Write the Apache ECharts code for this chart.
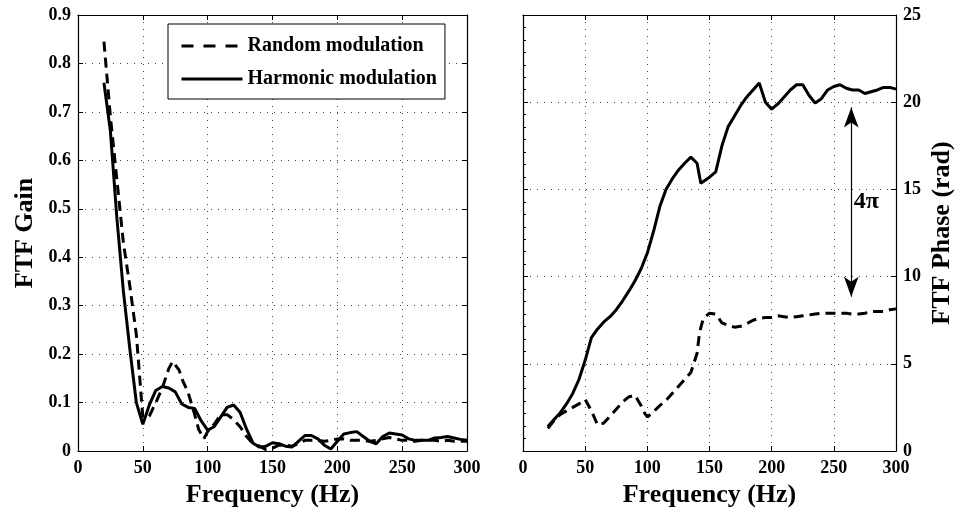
<!DOCTYPE html>
<html>
<head>
<meta charset="utf-8">
<script src="https://cdn.jsdelivr.net/npm/echarts@6/dist/echarts.min.js"></script>
<style>
html,body{margin:0;padding:0;background:#fff;}
#chart{width:956px;height:516px;}
</style>
</head>
<body>
<div id="chart"></div>
<script>
// ---------- Data ----------
var seriesNames = ['Random modulation', 'Harmonic modulation'];
var xTicks = [0, 50, 100, 150, 200, 250, 300];

// Left panel: FTF gain
var freqGainHarmonic = [20,25,30,35,40,45,50,55,60,65,70,75,80,85,90,95,100,105,110,115,120,125,130,135,140,145,150,155,160,165,170,175,180,185,190,195,200,205,210,215,220,225,230,235,240,245,250,255,260,265,270,275,280,285,290,295,300];
var gainHarmonic = [0.76,0.66,0.48,0.33,0.21,0.10,0.055,0.095,0.125,0.133,0.13,0.122,0.097,0.09,0.088,0.062,0.043,0.05,0.07,0.09,0.095,0.08,0.045,0.016,0.008,0.01,0.017,0.015,0.01,0.008,0.02,0.032,0.032,0.025,0.012,0.004,0.02,0.035,0.038,0.04,0.03,0.02,0.015,0.03,0.037,0.035,0.033,0.025,0.022,0.022,0.022,0.027,0.028,0.03,0.027,0.024,0.022];

var freqGainRandom = [20,25,30,35,40,45,50,55,60,65,70,73,78,80,85,90,93,97,100,105,110,115,120,125,130,135,140,145,150,155,160,165,170,175,180,185,190,195,200,205,210,215,220,225,230,235,240,245,250,255,260,265,270,275,280,285,290,295,300];
var gainRandom = [0.845,0.69,0.56,0.43,0.34,0.24,0.07,0.072,0.10,0.13,0.17,0.185,0.167,0.15,0.12,0.075,0.045,0.025,0.04,0.055,0.075,0.075,0.065,0.05,0.03,0.015,0.01,0.003,0.006,0.012,0.012,0.01,0.015,0.022,0.022,0.022,0.02,0.022,0.025,0.025,0.022,0.022,0.022,0.02,0.022,0.025,0.028,0.025,0.022,0.022,0.02,0.022,0.022,0.022,0.02,0.022,0.02,0.02,0.02];

// Right panel: FTF phase (rad)
var freqPhaseHarmonic = [20,25,30,35,40,45,50,55,60,65,70,75,80,85,90,95,100,105,110,115,120,125,130,135,140,143,150,155,160,165,170,175,180,185,190,195,200,205,210,215,220,225,230,235,240,245,250,255,260,265,270,275,280,285,290,295,300];
var phaseHarmonic = [1.4,1.8,2.2,2.7,3.3,4.1,5.2,6.5,7.0,7.4,7.7,8.1,8.6,9.15,9.75,10.45,11.35,12.6,14.0,15.0,15.6,16.1,16.5,16.85,16.5,15.35,15.7,16.0,17.5,18.6,19.2,19.8,20.3,20.7,21.1,20.0,19.6,19.9,20.3,20.7,21.0,21.0,20.4,19.95,20.2,20.7,20.9,21.0,20.8,20.7,20.7,20.5,20.6,20.7,20.85,20.85,20.75];

var freqPhaseRandom = [20,25,30,35,40,45,50,55,60,65,70,75,80,85,90,95,98,100,105,110,115,120,125,130,135,140,142,145,150,155,160,165,170,175,180,185,190,195,200,205,210,215,220,225,230,235,240,245,250,255,260,265,270,275,280,285,290,295,300];
var phaseRandom = [1.3,1.75,2.1,2.3,2.5,2.7,2.95,2.3,1.5,1.6,2.0,2.4,2.8,3.1,3.2,2.6,2.15,1.95,2.25,2.6,2.9,3.3,3.7,4.1,4.5,5.6,6.8,7.6,7.9,7.85,7.35,7.2,7.1,7.15,7.3,7.5,7.6,7.65,7.65,7.75,7.7,7.65,7.7,7.75,7.8,7.85,7.9,7.9,7.9,7.9,7.9,7.85,7.85,7.9,8.0,8.0,8.0,8.1,8.15];

// 4π annotation (double arrow) on the phase panel
var arrowFreq = 264;
var arrowTop = 19.7;
var arrowBottom = 8.85;
var arrowLabel = '4\u03c0';
var arrowLabelPos = [266, 14.3];

// ---------- Chart ----------
function pairs(xs, ys) { return xs.map(function (x, i) { return [x, ys[i]]; }); }

var FONT = 'Liberation Serif';
var tickFont = { color: '#000', fontFamily: FONT, fontWeight: 'bold', fontSize: 18 };
var nameFont = { color: '#000', fontFamily: FONT, fontWeight: 'bold', fontSize: 26 };
var gridLine = { show: true, lineStyle: { color: '#444', width: 1, type: [1, 6] } };
var axisLine = { show: true, onZero: false, lineStyle: { color: '#000', width: 1.2 } };
var tickIn = { show: true, inside: true, length: 5, lineStyle: { color: '#000', width: 1 } };

function xMain(gi) {
  return { type: 'value', gridIndex: gi, position: 'bottom', min: 0, max: 300, interval: 50,
    axisLine: axisLine, axisTick: tickIn, splitLine: gridLine,
    axisLabel: Object.assign({ margin: 8 }, tickFont),
    name: 'Frequency (Hz)', nameLocation: 'middle', nameGap: 30, nameTextStyle: nameFont };
}
function xTop(gi) {
  return { type: 'value', gridIndex: gi, position: 'top', min: 0, max: 300, interval: 50,
    axisLine: axisLine, axisTick: tickIn, splitLine: { show: false }, axisLabel: { show: false } };
}

var option = {
  animation: false,
  backgroundColor: '#fff',
  grid: [
    { left: 78, top: 15, width: 389, height: 436 },
    { left: 523, top: 15, width: 374, height: 436 }
  ],
  legend: {
    data: [
      { name: seriesNames[0], lineStyle: { type: [12, 10], width: 3 } },
      { name: seriesNames[1], lineStyle: { width: 3 } }
    ],
    orient: 'vertical',
    left: 168, top: 24,
    padding: [11, 8, 9, 12],
    itemGap: 11,
    itemWidth: 61, itemHeight: 14,
    itemTextGap: 8,
    borderColor: '#000', borderWidth: 1,
    backgroundColor: '#fff',
    itemStyle: { opacity: 0, borderWidth: 0 },
    textStyle: { color: '#000', fontFamily: FONT, fontWeight: 'bold', fontSize: 20, lineHeight: 22 },
    selectedMode: false
  },
  xAxis: [ xMain(0), xTop(0), xMain(1), xTop(1) ],
  yAxis: [
    { type: 'value', gridIndex: 0, position: 'left', min: 0, max: 0.9, interval: 0.1,
      axisLine: axisLine, axisTick: tickIn, splitLine: gridLine,
      axisLabel: Object.assign({ margin: 7 }, tickFont),
      name: 'FTF Gain', nameLocation: 'middle', nameGap: 40, nameRotate: 90, nameTextStyle: nameFont },
    { type: 'value', gridIndex: 0, position: 'right', min: 0, max: 0.9, interval: 0.1,
      axisLine: axisLine, axisTick: tickIn, splitLine: { show: false }, axisLabel: { show: false } },
    { type: 'value', gridIndex: 1, position: 'right', min: 0, max: 25, interval: 5,
      axisLine: axisLine, axisTick: tickIn, splitLine: gridLine,
      axisLabel: Object.assign({ margin: 7 }, tickFont),
      name: 'FTF Phase (rad)', nameLocation: 'middle', nameGap: 33, nameRotate: 90, nameTextStyle: nameFont },
    { type: 'value', gridIndex: 1, position: 'left', min: 0, max: 25, interval: 5,
      axisLine: axisLine, axisTick: tickIn, splitLine: { show: false }, axisLabel: { show: false },
      minorTick: { show: true, splitNumber: 7, length: 3, lineStyle: { color: '#000' } } }
  ],
  series: [
    { name: seriesNames[0], type: 'line', xAxisIndex: 0, yAxisIndex: 0, showSymbol: false, symbol: 'none',
      lineStyle: { color: '#000', width: 3, type: [10, 6] }, itemStyle: { color: '#000' },
      data: pairs(freqGainRandom, gainRandom), z: 3 },
    { name: seriesNames[1], type: 'line', xAxisIndex: 0, yAxisIndex: 0, showSymbol: false, symbol: 'none',
      lineStyle: { color: '#000', width: 3, type: 'solid' }, itemStyle: { color: '#000' },
      data: pairs(freqGainHarmonic, gainHarmonic), z: 4 },
    { name: seriesNames[0], type: 'line', xAxisIndex: 2, yAxisIndex: 2, showSymbol: false, symbol: 'none',
      lineStyle: { color: '#000', width: 3, type: [10, 6] }, itemStyle: { color: '#000' },
      data: pairs(freqPhaseRandom, phaseRandom), z: 3 },
    { name: seriesNames[1], type: 'line', xAxisIndex: 2, yAxisIndex: 2, showSymbol: false, symbol: 'none',
      lineStyle: { color: '#000', width: 3, type: 'solid' }, itemStyle: { color: '#000' },
      data: pairs(freqPhaseHarmonic, phaseHarmonic), z: 4 },
    { name: 'annotation', type: 'line', xAxisIndex: 2, yAxisIndex: 2,
      symbol: 'none', showSymbol: false, silent: true,
      lineStyle: { width: 0, opacity: 0 }, itemStyle: { color: '#000', opacity: 1 },
      data: [],
      markPoint: { silent: true, symbol: 'circle', symbolSize: 0,
        itemStyle: { color: '#000', opacity: 1 },
        label: { show: true, position: 'right', distance: 0, formatter: arrowLabel, opacity: 1,
          color: '#000', fontFamily: FONT, fontWeight: 'bold', fontSize: 24 },
        data: [{ coord: arrowLabelPos }] },
      markLine: { silent: true, symbol: ['arrow', 'arrow'], symbolSize: [11, 20],
        itemStyle: { color: '#000', opacity: 1 },
        lineStyle: { color: '#000', width: 1.2, type: 'solid', opacity: 1 }, label: { show: false },
        emphasis: { disabled: true },
        data: [[{ coord: [arrowFreq, arrowTop] }, { coord: [arrowFreq, arrowBottom] }]] },
      z: 5 }
  ]
};

var chart = echarts.init(document.getElementById('chart'), null, { renderer: 'canvas' });
chart.setOption(option);
</script>
</body>
</html>
